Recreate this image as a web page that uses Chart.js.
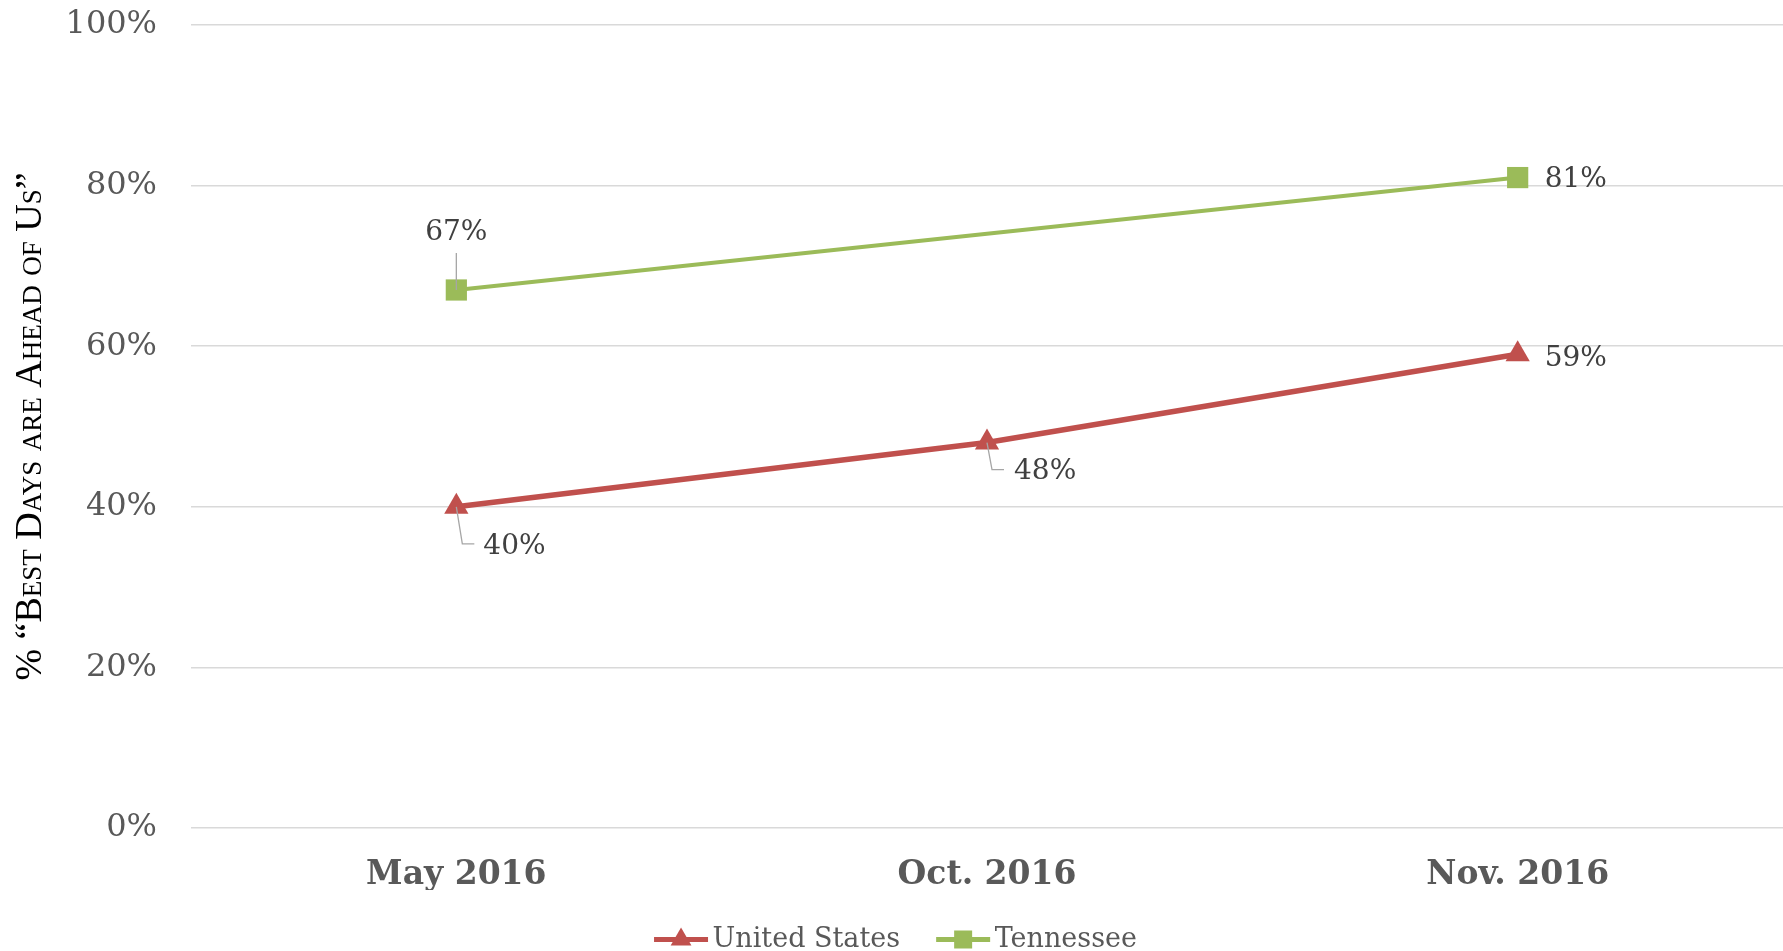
<!DOCTYPE html>
<html>
<head>
<meta charset="utf-8">
<script src="https://cdn.jsdelivr.net/npm/chart.js@4.4.1/dist/chart.umd.min.js"></script>
<style>
  html, body { margin: 0; padding: 0; background: #ffffff; overflow: hidden; }
  #wrap { width: 1783px; height: 951px; position: relative; }
</style>
</head>
<body>
<div id="wrap"><canvas id="c"></canvas></div>
<script>
// ---- data ----
const categories = ['May 2016', 'Oct. 2016', 'Nov. 2016'];
const unitedStates = [40, 48, 59];
const tennessee = [67, null, 81];
const yTickValues = [0, 20, 40, 60, 80, 100];
const yAxisTitle = '% \u201CBest Days are Ahead of Us\u201D';
const seriesNames = ['United States', 'Tennessee'];

// ---- styles ----
const RED = '#C0504D';
const GREEN = '#9BBB59';
const SERIF = '"DejaVu Serif", "Liberation Serif", serif';

// label placement per dataset/point: [dx, dy, align, leader]
const labelPlacement = {
  0: { 0: { dx: 27, dy: 40, align: 'left', leader: [[0, 0], [6, 37], [18, 37]] },
       1: { dx: 27, dy: 29, align: 'left', leader: [[0, 0], [5, 27], [17, 27]] },
       2: { dx: 27, dy: 4, align: 'left', leader: null } },
  1: { 0: { dx: 0, dy: -57, align: 'center', leader: [[0, 0], [0, -37]] },
       2: { dx: 27, dy: 2, align: 'left', leader: null } }
};

const dataLabelPlugin = {
  id: 'dataLabels',
  afterDatasetsDraw(chart) {
    const ctx = chart.ctx;
    chart.data.datasets.forEach((ds, di) => {
      const meta = chart.getDatasetMeta(di);
      meta.data.forEach((pt, i) => {
        const v = ds.data[i];
        if (v === null || v === undefined) return;
        const p = (labelPlacement[di] || {})[i];
        if (!p) return;
        ctx.save();
        if (p.leader) {
          ctx.strokeStyle = '#A6A6A6';
          ctx.lineWidth = 1.3;
          ctx.beginPath();
          p.leader.forEach((q, k) => {
            if (k === 0) ctx.moveTo(pt.x + q[0], pt.y + q[1]);
            else ctx.lineTo(pt.x + q[0], pt.y + q[1]);
          });
          ctx.stroke();
        }
        ctx.font = '28px ' + SERIF;
        ctx.fillStyle = '#404040';
        ctx.textAlign = p.align;
        ctx.textBaseline = 'middle';
        ctx.fillText(Math.round(v) + '%', pt.x + p.dx, pt.y + p.dy);
        ctx.restore();
      });
    });
  }
};

// legend symbol: line with the series marker in its middle
const LEGEND_LINE = 54;
const legendMarkerPlugin = {
  id: 'legendMarkers',
  afterDraw(chart) {
    const lg = chart.legend;
    if (!lg || !lg.legendHitBoxes) return;
    const ctx = chart.ctx;
    lg.legendHitBoxes.forEach((hb, i) => {
      const color = i === 0 ? RED : GREEN;
      const cx = hb.left + LEGEND_LINE / 2;
      const cy = hb.top + hb.height / 2;
      ctx.save();
      ctx.fillStyle = color;
      ctx.fillRect(hb.left, cy - 2.5, LEGEND_LINE, 5);
      ctx.beginPath();
      if (i === 0) {
        const r = 12;
        ctx.moveTo(cx, cy - r);
        ctx.lineTo(cx + r * 0.866, cy + r * 0.5);
        ctx.lineTo(cx - r * 0.866, cy + r * 0.5);
        ctx.closePath();
      } else {
        ctx.rect(cx - 9, cy - 9, 18, 18);
      }
      ctx.fill();
      ctx.restore();
    });
  }
};

new Chart(document.getElementById('c'), {
  type: 'line',
  data: {
    labels: categories,
    datasets: [
      {
        label: seriesNames[0],
        data: unitedStates,
        borderColor: RED,
        backgroundColor: RED,
        borderWidth: 5.5,
        pointStyle: 'triangle',
        pointRadius: 14,
        pointBorderWidth: 0,
        pointBackgroundColor: RED,
        tension: 0
      },
      {
        label: seriesNames[1],
        data: tennessee,
        borderColor: GREEN,
        backgroundColor: GREEN,
        borderWidth: 4,
        pointStyle: 'rect',
        pointRadius: 15,
        pointBorderWidth: 0,
        pointBackgroundColor: GREEN,
        spanGaps: true,
        tension: 0
      }
    ]
  },
  options: {
    responsive: true,
    maintainAspectRatio: false,
    animation: false,
    layout: { autoPadding: false, padding: { top: 25, right: 0, left: 8, bottom: -12 } },
    plugins: {
      tooltip: { enabled: false },
      legend: {
        position: 'bottom',
        labels: {
          boxWidth: 45,
          boxHeight: 4,
          padding: 36,
          color: '#595959',
          font: { family: SERIF, size: 27 },
          generateLabels(chart) {
            return Chart.defaults.plugins.legend.labels.generateLabels(chart).map(it => ({
              ...it, fillStyle: 'rgba(0,0,0,0)', strokeStyle: 'rgba(0,0,0,0)', lineWidth: 0
            }));
          }
        }
      }
    },
    scales: {
      x: {
        offset: true,
        afterFit(scale) { scale.height = 62; scale.paddingLeft = 0; scale.paddingRight = 0; },
        grid: { display: false },
        border: { display: false },
        ticks: {
          color: '#595959',
          padding: 20,
          font: { family: SERIF, size: 33, weight: 'bold' }
        }
      },
      y: {
        min: 0,
        max: 100,
        afterBuildTicks(scale) { scale.ticks = yTickValues.map(v => ({ value: v })); },
        afterFit(scale) { scale.width = 183; scale.paddingTop = 0; scale.paddingBottom = 0; },
        grid: { color: '#D9D9D9', lineWidth: 1.5, drawTicks: false },
        border: { display: false },
        ticks: {
          color: '#595959',
          padding: 34,
          font: { family: SERIF, size: 32 },
          callback: v => v + '%'
        },
        title: {
          display: true,
          text: yAxisTitle,
          color: '#000000',
          padding: { top: 0, bottom: 0 },
          font: { family: '"Liberation Serif", serif', size: 38, weight: 'small-caps normal' }
        }
      }
    }
  },
  plugins: [dataLabelPlugin, legendMarkerPlugin]
});
</script>
</body>
</html>
